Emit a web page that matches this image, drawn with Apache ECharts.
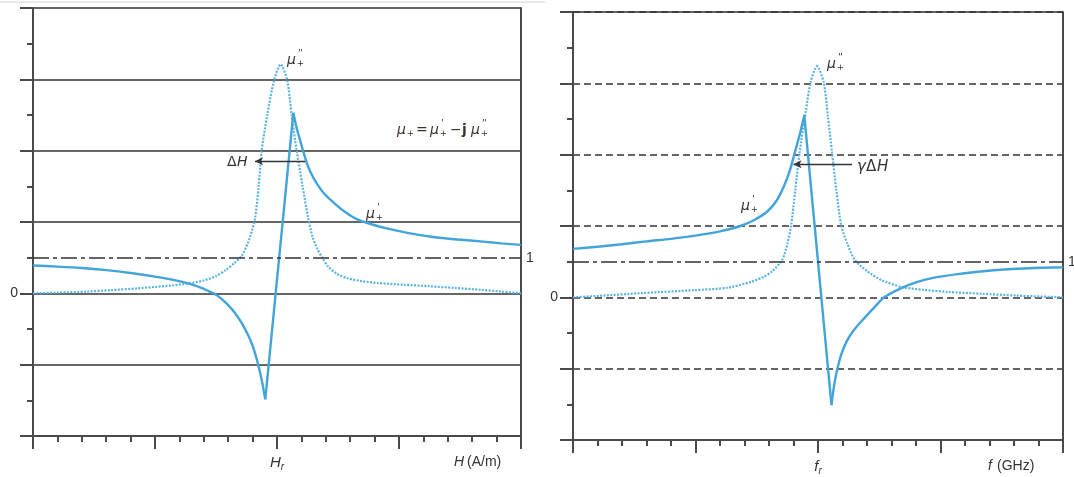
<!DOCTYPE html>
<html><head><meta charset="utf-8">
<script src="https://cdn.jsdelivr.net/npm/echarts@6/dist/echarts.min.js"></script>
<style>html,body{margin:0;padding:0;background:#fff}#c{width:1074px;height:477px}</style>
</head><body><div id="c"></div>
<script>
// ---- data (x in minor-tick units 0..20, resonance at 10; y in axis units, 0 and 1 marked) ----
const hMuReal = [[0,0.78],[1,0.75],[2,0.71],[3,0.65],[4,0.57],[5,0.47],[5.8,0.37],[6.4,0.27],[6.9,0.15],[7.2,0.06],[7.4,0.0],[7.7,-0.14],[8.0,-0.33],[8.3,-0.57],[8.55,-0.83],[8.8,-1.15],[9.0,-1.47],[9.15,-1.8],[9.28,-2.15],[9.38,-2.45],[9.46,-2.75],[9.52,-2.97],
  [10.67,5.06],[10.75,4.8],[10.85,4.52],[10.94,4.31],[11.08,3.97],[11.22,3.66],[11.4,3.36],[11.63,3.08],[11.9,2.82],[12.31,2.55],[12.75,2.3],[13.27,2.08],[13.9,1.93],[14.5,1.82],[15.4,1.69],[16.4,1.58],[17.4,1.51],[18.45,1.45],[19.2,1.4],[20,1.36]];
const hMuImag = [[0,0],[1,0.02],[2.2,0.05],[3.2,0.09],[4.3,0.14],[5,0.18],[5.7,0.22],[6.4,0.28],[7.0,0.36],[7.5,0.48],[7.9,0.65],[8.25,0.85],[8.55,1.05],[8.8,1.4],[8.97,1.75],[9.1,2.1],[9.25,3.0],[9.37,4.0],[9.6,5.0],[9.88,5.97],[10.15,6.42],[10.42,5.97],[10.6,5.0],[10.8,4.03],[11.05,3.0],[11.28,2.1],[11.45,1.6],[11.65,1.25],[11.85,1.0],[12.1,0.75],[12.45,0.55],[12.9,0.42],[13.5,0.34],[14.13,0.29],[15.2,0.24],[16.24,0.2],[17.3,0.15],[18.35,0.1],[19.2,0.05],[20,0]];
const fMuReal = [[0,1.36],[1,1.42],[2,1.49],[3,1.57],[4,1.64],[5,1.73],[6,1.85],[6.83,2.0],[7.4,2.17],[7.92,2.4],[8.3,2.7],[8.6,3.1],[8.85,3.55],[9.05,4.05],[9.25,4.55],[9.44,5.1],
  [10.55,-3.02],[10.62,-2.65],[10.7,-2.3],[10.8,-1.98],[10.95,-1.6],[11.18,-1.22],[11.45,-0.93],[11.88,-0.59],[12.3,-0.28],[12.7,0],[13.4,0.26],[14.0,0.42],[14.65,0.54],[15.7,0.65],[16.74,0.73],[17.6,0.78],[18.4,0.81],[19.2,0.83],[20,0.84]];
const fMuImag = [[0,0],[1,0.04],[2.85,0.12],[4.93,0.2],[6.32,0.27],[7.29,0.44],[7.8,0.58],[8.13,0.73],[8.54,1.05],[8.75,1.5],[8.9,2.0],[9.07,3.0],[9.25,4.07],[9.5,5.2],[9.7,6.04],[9.96,6.48],[10.23,6.04],[10.4,5.1],[10.57,4.07],[10.75,3.0],[10.95,2.0],[11.2,1.5],[11.5,1.05],[12.01,0.73],[12.57,0.49],[13.4,0.29],[14.3,0.21],[15.35,0.15],[16.7,0.1],[18.1,0.05],[20,0]];
const yLabelValues = [0];
const refLineValue = 1;
const refLineLabel = '1';
const xResValue = 10;
const hLinewidth = [9.1, 11.15, 3.7];   // ΔH arrow: from, to, level
const fLinewidth = [9.0, 11.39, 3.73];  // γΔH arrow

const DARK = '#333', AX = '#4a4a4a', BLUE = '#42a4d8', BLUE2 = '#5ab4e2';
const FONT = '"Liberation Sans", Arial, sans-serif';

function xAxisCfg(gi, sub) {
  return {
    type: 'value', gridIndex: gi, min: 0, max: 20, interval: 5,
    axisLine: { onZero: false, lineStyle: { color: AX, width: 2 } },
    axisTick: { inside: false, length: 13, lineStyle: { color: AX, width: 2 } },
    minorTick: { show: true, splitNumber: 5, length: 6, lineStyle: { color: AX, width: 2 } },
    splitLine: { show: false },
    axisLabel: {
      margin: 17, color: '#333',
      formatter: v => v === xResValue ? '{i|' + sub[0] + '}{s|' + sub[1] + '}' : '',
      rich: { i: { fontStyle: 'italic', fontSize: 15, fontFamily: FONT, color: '#333' },
              s: { fontStyle: 'italic', fontSize: 10, fontFamily: FONT, color: '#333', verticalAlign: 'bottom', padding: [9, 0, 0, 0] } }
    }
  };
}
function yAxisCfg(gi, dashed) {
  return {
    type: 'value', gridIndex: gi, min: -4, max: 8, interval: 2,
    axisLine: { onZero: false, lineStyle: { color: AX, width: 2 } },
    axisTick: { inside: false, length: 13, lineStyle: { color: AX, width: 2 } },
    minorTick: { show: true, splitNumber: 2, length: 6, lineStyle: { color: AX, width: 2 } },
    splitLine: { show: true, lineStyle: { color: DARK, width: 1.5, type: dashed ? [7, 4] : 'solid' } },
    axisLabel: { margin: 15, fontSize: 14, color: '#333', fontFamily: FONT, formatter: v => yLabelValues.includes(v) ? String(v) : '' }
  };
}
function yBorder(gi) {
  return { type: 'value', gridIndex: gi, min: -4, max: 8, position: 'right',
    axisLine: { show: true, onZero: false, lineStyle: { color: AX, width: 2 } },
    axisTick: { show: false }, axisLabel: { show: false }, splitLine: { show: false } };
}
function refMarks(arrow, topSolid) {
  const data = [
    { yAxis: refLineValue, lineStyle: { type: [16, 4, 4, 4], color: DARK, width: 1.5 },
      label: { show: true, position: 'end', formatter: refLineLabel, color: '#333', fontSize: 14, fontFamily: FONT, distance: 5 } },
    [ { coord: [arrow[0], arrow[2]], symbol: 'arrow', symbolSize: [6, 8] },
      { coord: [arrow[1], arrow[2]], symbol: 'none', lineStyle: { type: 'solid', color: '#333', width: 1.4 }, label: { show: false } } ]
  ];
  if (topSolid) data.push({ yAxis: 8, lineStyle: { type: 'solid', color: DARK, width: 1.5 }, label: { show: false } });
  return { silent: true, symbol: 'none', animation: false, data: data };
}

function txt(x, y, text, size, style, color, fam) {
  return { type: 'text', x: x, y: y, z: 10, style: { text: text, font: (style || '') + ' ' + size + 'px ' + (fam || '"DejaVu Sans", sans-serif'),
    fill: color || '#333', textAlign: 'left', textVerticalAlign: 'middle', align: 'left', verticalAlign: 'middle' } };
}
function mu(x, y, sup, size, color) {
  const out = [txt(x, y, 'μ', size, 'italic', color)];
  const dx = size * 0.7;
  if (sup) out.push(txt(x + dx + 1, y - size * 0.42, sup, size * 0.75, 'italic', color, FONT));
  out.push(txt(x + dx, y + size * 0.3, '+', size * 0.62, '', color));
  return out;
}
const EQC = '#3b3428';
const graphics = [].concat(
  [{ type: 'line', shape: { x1: 0, y1: 2, x2: 545, y2: 2 }, style: { stroke: '#d2d2d2', lineWidth: 1 } }],
  mu(287, 60, "''", 14),
  mu(366, 214, "'", 14),
  [txt(227, 162, 'Δ', 14, ''), txt(237, 162, 'H', 14, 'italic')],
  mu(397, 130, null, 14, EQC),
  [txt(416, 130, '=', 14, '', EQC)],
  mu(430, 130, "'", 14, EQC),
  [txt(450, 130, '−', 14, '', EQC), txt(462, 130, 'j', 14, 'bold', EQC)],
  mu(471, 130, "''", 14, EQC),
  mu(827, 64, "''", 14),
  mu(741, 206, "'", 14),
  [txt(857, 167, 'γ', 15, 'italic'), txt(866, 167, 'Δ', 15, ''), txt(877, 167, 'H', 15, 'italic')],
  [txt(454, 462, 'H', 14, 'italic', '#333', FONT), txt(467, 462, '(A/m)', 14, '', '#333', FONT)],
  [txt(988, 466, 'f', 14, 'italic', '#333', FONT), txt(997, 466, '(GHz)', 14, '', '#333', FONT)]
);

// split the real part at its extremes so the smooth segments keep the sharp resonance corners
function segments(arr) {
  let iMin = 0, iMax = 0;
  arr.forEach((p, i) => { if (p[1] < arr[iMin][1]) iMin = i; if (p[1] > arr[iMax][1]) iMax = i; });
  const a = Math.min(iMin, iMax), b = Math.max(iMin, iMax);
  return [arr.slice(0, a + 1), arr.slice(a, b + 1), arr.slice(b)];
}
function realSeries(arr, xi, yi) {
  return segments(arr).map((seg, k) => ({
    type: 'line', xAxisIndex: xi, yAxisIndex: yi, data: seg, showSymbol: false, z: 4,
    smooth: k === 1 ? false : 0.25, lineStyle: { color: BLUE, width: 2.4 }
  }));
}

const chart = echarts.init(document.getElementById('c'), null, { renderer: 'canvas' });
chart.setOption({
  animation: false,
  backgroundColor: '#fff',
  grid: [ { left: 33, top: 8, width: 488, height: 428 }, { left: 573, top: 12, width: 490, height: 428 } ],
  xAxis: [ xAxisCfg(0, ['H', 'r']), xAxisCfg(1, ['f', 'r']) ],
  yAxis: [ yAxisCfg(0, false), yBorder(0), yAxisCfg(1, true), yBorder(1) ],
  series: [
    { type: 'line', xAxisIndex: 0, yAxisIndex: 0, data: hMuImag, showSymbol: false, smooth: 0.25, z: 3,
      lineStyle: { color: BLUE2, width: 2.2, type: [2, 1.4] }, markLine: refMarks(hLinewidth, false) },
    { type: 'line', xAxisIndex: 1, yAxisIndex: 2, data: fMuImag, showSymbol: false, smooth: 0.25, z: 3,
      lineStyle: { color: BLUE2, width: 2.2, type: [2, 1.4] }, markLine: refMarks(fLinewidth, true) }
  ].concat(realSeries(hMuReal, 0, 0), realSeries(fMuReal, 1, 2)),
  graphic: graphics
});
</script></body></html>
